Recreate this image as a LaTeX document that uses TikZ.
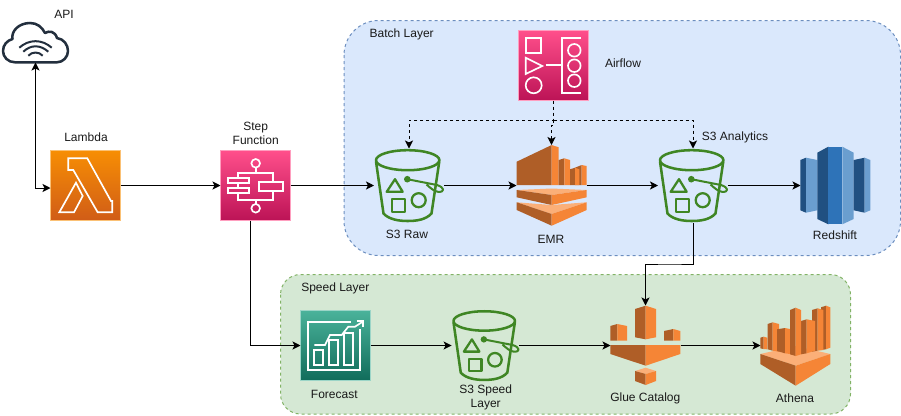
\documentclass[tikz,border=0pt]{standalone}
\usepackage{fontspec}
\setmainfont{Liberation Sans}
\usetikzlibrary{arrows.meta}
\definecolor{oDark}{HTML}{AF5E27}
\definecolor{oLight}{HTML}{F58536}
\definecolor{oPale}{HTML}{FBAF78}
\definecolor{bDark}{HTML}{205081}
\definecolor{bMid}{HTML}{2E73B8}
\definecolor{bLight}{HTML}{6A9ECF}
\definecolor{sGreen}{HTML}{3F8624}
\definecolor{cloudInk}{HTML}{232F3E}
\definecolor{batchFill}{HTML}{DAE8FC}
\definecolor{batchLine}{HTML}{6C8EBF}
\definecolor{speedFill}{HTML}{D5E8D4}
\definecolor{speedLine}{HTML}{82B366}
\definecolor{lamTop}{HTML}{F78E04}
\definecolor{lamBot}{HTML}{D05C17}
\definecolor{pinkTop}{HTML}{FF4F8B}
\definecolor{pinkBot}{HTML}{BC1356}
\definecolor{tealTop}{HTML}{4AB29A}
\definecolor{tealBot}{HTML}{116D5B}
\tikzset{
  inset/.style={inner sep=0pt,outer sep=0pt},
  lbl/.style={font=\fontsize{9}{10.5}\selectfont,text=black!90,inset,align=center},
  iconbox/.style={inset,shape=rectangle,minimum width=52.5pt,minimum height=52.5pt},
  tile/.style={iconbox,draw=white!45!#1,line width=.5pt},
  glyph/.style={draw=white,line width=1.25pt,fill=none},
  bucketline/.style={draw=sGreen,line width=1.9pt,fill=none,line join=round},
  arr/.style={-{Stealth[length=6pt,width=6pt,inset=1.5pt]},line width=.75pt,draw=black},
  arrboth/.style={{Stealth[length=6pt,width=6pt,inset=1.5pt]}-{Stealth[length=6pt,width=6pt,inset=1.5pt]},line width=.75pt,draw=black},
  dasharr/.style={arr,dash pattern=on 2.25pt off 2.25pt},
  layer/.style={dash pattern=on 2.25pt off 2.25pt,line width=.75pt},
}
\newcommand{\bucketicon}[4]{%
  \begin{scope}[shift={(#2,#3)},scale=#4]
    \node[inset,minimum width=#4*52.5pt,minimum height=#4*55.5pt] (#1) at (0,0) {};
    \draw[bucketline] (-1.3,-25.3) ellipse [x radius=31.7,y radius=10];
    \draw[bucketline] (-33,-24) -- (-25.5,28) .. controls (-20,34) and (-10,35.5) .. (-1.3,35.5)
      .. controls (8,35.5) and (17,34) .. (22.5,28) -- (30.3,-24);
    \draw[bucketline,line width=1.7pt] (-14,-6.3) -- (-6.3,6.3) -- (-22.3,6.3) -- cycle;
    \draw[bucketline,line width=1.7pt] (-17.3,13.7) rectangle (-4,26.3);
    \draw[bucketline,line width=1.7pt] (9.7,14.7) circle (7);
    \fill[sGreen] (-1.7,-6.3) circle (3.3);
    \draw[bucketline,line width=1.5pt] (-1.7,-6.3) -- (28,-0.5) .. controls (36,2) and (36,7) .. (29,6.3) .. controls (25,6) and (21,2) .. (17.5,-1);
  \end{scope}}
\begin{document}
\begin{tikzpicture}[x=0.75pt,y=-0.75pt]
\useasboundingbox (0,0) rectangle (901,415);
% layers
\draw[layer,draw=batchLine,fill=batchFill,rounded corners=26pt] (344,20.5) rectangle (900.5,255.5);
\draw[layer,draw=speedLine,fill=speedFill,rounded corners=15pt] (280.5,274.5) rectangle (850.5,414);

% cloud
\node[inset,minimum width=50pt,minimum height=30pt] (api) at (35.5,42.5) {};
\draw[cloudInk,line width=1.9pt,line join=round] (15,62.3) .. controls (8,62.3) and (3,57) .. (3,51)
  .. controls (3,45) and (7,40.5) .. (12.5,39) .. controls (11,31) and (19,23) .. (30,23)
  .. controls (37,23) and (42,27) .. (45,33) .. controls (49,30.5) and (55,31) .. (57,38)
  .. controls (64,39) and (68,45) .. (68,51) .. controls (68,57) and (63,62.3) .. (57,62.3) -- cycle;
\draw[cloudInk,line width=1.5pt] (19.3,47.7) .. controls (29,39) and (42,39) .. (51.7,47.7);
\draw[cloudInk,line width=1.5pt] (23.3,51.7) .. controls (31,44.5) and (40,44.5) .. (48.3,51.7);
\draw[cloudInk,line width=1.5pt] (28.3,55.7) .. controls (32,51.5) and (39,51.5) .. (42.7,55.7);

% lambda
\node[tile=lamTop,top color=lamTop,bottom color=lamBot] (lambda) at (85.5,185.5) {};
\draw[glyph,line join=miter] (68.3,158.3) -- (87.3,158.3) -- (111,201) -- (112.3,201) -- (112.3,212.3) -- (97.7,212.3) -- (73.3,170) -- (68.3,170) -- cycle;
\draw[glyph] (76,182.7) -- (82.7,196) -- (74,212.3) -- (59.3,212.3) -- cycle;

% step function
\node[tile=pinkTop,top color=pinkTop,bottom color=pinkBot] (step) at (255.5,185.5) {};
\draw[glyph] (255.7,163.3) circle (4.3);
\draw[glyph] (255.7,208.3) circle (4.3);
\draw[glyph] (255.7,167.6) -- (255.7,172.7);
\draw[glyph] (255.7,204) -- (255.7,200);
\draw[glyph] (238.3,177.7) -- (238.3,172.7) -- (273.3,172.7) -- (273.3,181.7);
\draw[glyph] (238.3,193.3) -- (238.3,200) -- (273.3,200) -- (273.3,190.7);
\draw[glyph] (238.3,183.3) -- (238.3,187.7);
\draw[glyph] (227.7,177.7) rectangle (249,183.3);
\draw[glyph] (227.7,187.7) rectangle (249,193.3);
\draw[glyph] (259.3,181.7) rectangle (283.3,190.7);

% airflow
\node[tile=pinkTop,top color=pinkTop,bottom color=pinkBot] (airflow) at (553.5,65.5) {};
\draw[glyph] (525.7,38.3) rectangle (541,52.7);
\draw[glyph] (525.7,57.7) -- (542.3,66) -- (525.7,74) -- cycle;
\draw[glyph] (533.7,85.3) circle (8);
\draw[glyph] (545.7,65.3) -- (561.7,65.3);
\draw[glyph] (581,38) -- (561.7,38) -- (561.7,92.7) -- (581,92.7);
\draw[glyph] (574.3,50.3) circle (6.3);
\draw[glyph] (574.3,65.7) circle (6.3);
\draw[glyph] (574.3,80.7) circle (6.3);

% forecast
\node[tile=tealTop,top color=tealTop,bottom color=tealBot] (forecast) at (335.5,345.5) {};
\draw[glyph] (350.7,321.7) -- (308.3,321.7) -- (308.3,370) -- (360,370) -- (360,329.3);
\draw[glyph] (314.3,350) rectangle (322.7,365);
\draw[glyph] (329.3,340) rectangle (338.3,365);
\draw[glyph] (344.3,333.3) rectangle (352.7,365);
\draw[glyph] (314.3,345) -- (325,345) -- (330,335) -- (341.7,335) -- (348.3,326.7) -- (355,326.7) -- (362.7,321.7);
\draw[glyph] (356.7,320.7) -- (363.3,320.7) -- (363.3,327.3);

% buckets
\bucketicon{s3raw}{409}{185.5}{1}
\bucketicon{s3an}{693}{185.5}{1}
\bucketicon{s3sp}{485.5}{345.5}{.97}

% EMR
\node[inset,minimum width=52.5pt,minimum height=60.75pt] (emr) at (551.5,185.5) {};
\fill[oDark] (516.7,161.7) -- (551.7,145) -- (551.7,185) -- (516.7,185) -- cycle;
\fill[oLight] (551.7,145) -- (558.7,147.3) -- (558.7,185) -- (551.7,185) -- cycle;
\fill[oDark] (558.7,160) -- (564.3,158.3) -- (564.3,185) -- (558.7,185) -- cycle;
\fill[oLight] (564.3,158.3) -- (570,160) -- (570,185) -- (564.3,185) -- cycle;
\fill[oDark] (575,167.7) -- (581.7,165) -- (581.7,185) -- (575,185) -- cycle;
\fill[oLight] (581.7,165) -- (586.7,166) -- (586.7,185) -- (581.7,185) -- cycle;
\fill[oDark] (570,169.3) -- (575,167.7) -- (575,185) -- (570,185) -- cycle;
\fill[oLight] (575,167.7) -- (579.3,169.3) -- (579.3,185) -- (575,185) -- cycle;
\fill[oPale] (516.7,190) -- (551.7,188.5) -- (586.7,190) -- (551.7,195) -- cycle;
\fill[oDark] (516.7,190) -- (551.7,195) -- (551.7,205) -- (516.7,197.3) -- cycle;
\fill[oLight] (551.7,195) -- (586.7,190) -- (586.7,197.3) -- (551.7,205) -- cycle;
\fill[oPale] (516.7,202.3) -- (551.7,205) -- (586.7,202.3) -- (551.7,214) -- cycle;
\fill[oDark] (516.7,202.3) -- (551.7,214) -- (551.7,225.7) -- (516.7,210) -- cycle;
\fill[oLight] (551.7,214) -- (586.7,202.3) -- (586.7,210) -- (551.7,225.7) -- cycle;

% Redshift
\node[inset,minimum width=52.5pt,minimum height=58pt] (redshift) at (835.5,185.5) {};
\fill[bDark] (800.3,160) -- (806,157.7) -- (806,212.7) -- (800.3,210.3) -- cycle;
\fill[bLight] (806,157.7) -- (817.3,160) -- (817.3,210.3) -- (806,212.7) -- cycle;
\fill[bDark] (817.3,152.7) -- (828.3,146.7) -- (828.3,224.3) -- (817.3,219) -- cycle;
\fill[bMid] (828.3,146.7) rectangle (842.3,224.3);
\fill[bLight] (842.3,146.7) -- (853.7,152.7) -- (853.7,219) -- (842.3,224.3) -- cycle;
\fill[bDark] (853.7,160) -- (864.7,157.7) -- (864.7,212.7) -- (853.7,210.3) -- cycle;
\fill[bLight] (864.7,157.7) -- (870.3,160) -- (870.3,210.3) -- (864.7,212.7) -- cycle;

% Glue
\node[inset,minimum width=52.5pt,minimum height=60pt] (glue) at (645.5,345.5) {};
\fill[oDark] (635,309) -- (645.7,305.7) -- (645.7,339.3) -- (635,337.3) -- cycle;
\fill[oLight] (645.7,305.7) -- (656,309) -- (656,337.3) -- (645.7,339.3) -- cycle;
\fill[oDark] (610.3,326) -- (617.3,324) -- (617.3,340.7) -- (610.3,340.7) -- cycle;
\fill[oLight] (617.3,324) -- (627,326) -- (627,340.7) -- (617.3,340.7) -- cycle;
\fill[oDark] (664,331) -- (673.3,329) -- (673.3,340.7) -- (664,340.7) -- cycle;
\fill[oLight] (673.3,329) -- (680.3,331) -- (680.3,340.7) -- (673.3,340.7) -- cycle;
\fill[oDark] (610.3,345) -- (645.7,345) -- (645.7,365.7) -- (610.3,354) -- cycle;
\fill[oLight] (645.7,345) -- (680.3,345) -- (680.3,354) -- (645.7,365.7) -- cycle;
\fill[oPale] (635,371) -- (645.7,367.7) -- (656,371) -- (645.7,374) -- cycle;
\fill[oDark] (635,371) -- (645.7,374) -- (645.7,385) -- (635,381) -- cycle;
\fill[oLight] (645.7,374) -- (656,371) -- (656,381) -- (645.7,385) -- cycle;

% Athena
\node[inset,minimum width=52.5pt,minimum height=60pt] (athena) at (795.5,345.5) {};
\fill[oPale] (760.3,354) -- (795.7,346) -- (830.3,354) -- (795.7,365.7) -- cycle;
\fill[oDark] (760.3,354) -- (795.7,365.7) -- (795.7,385.7) -- (760.3,364) -- cycle;
\fill[oLight] (795.7,365.7) -- (830.3,354) -- (830.3,364) -- (795.7,385.7) -- cycle;
\fill[oDark] (760.3,337.7) -- (763.7,336.7) -- (763.7,349) -- (760.3,348.3) -- cycle;
\fill[oLight] (763.7,336.7) -- (767.3,337.7) -- (767.3,349.3) -- (763.7,349) -- cycle;
\fill[oDark] (767.7,324) -- (772.7,322.3) -- (772.7,350.7) -- (767.7,349.3) -- cycle;
\fill[oLight] (772.7,322.3) -- (779,324) -- (779,351.7) -- (772.7,350.7) -- cycle;
\fill[oDark] (777,329.3) -- (785,328) -- (785,353.3) -- (777,351) -- cycle;
\fill[oLight] (785,328) -- (790,329) -- (790,354) -- (785,353.3) -- cycle;
\fill[oDark] (821,307.3) -- (826,305.7) -- (826,349.3) -- (821,350) -- cycle;
\fill[oLight] (826,305.7) -- (830.3,307.3) -- (830.3,347.7) -- (826,349.3) -- cycle;
\fill[oDark] (812,310) -- (817.7,308.3) -- (817.7,350.7) -- (812,351.7) -- cycle;
\fill[oLight] (817.7,308.3) -- (823.3,310) -- (823.3,350) -- (817.7,350.7) -- cycle;
\fill[oDark] (801,321) -- (806.7,319.3) -- (806.7,353.3) -- (801,354.3) -- cycle;
\fill[oLight] (806.7,319.3) -- (815,321) -- (815,350.7) -- (806.7,353.3) -- cycle;
\fill[oDark] (790,310) -- (795.7,307.7) -- (795.7,356) -- (790,354.3) -- cycle;
\fill[oLight] (795.7,307.7) -- (801,310) -- (801,354.3) -- (795.7,356) -- cycle;

% labels
\node[lbl] (tApi) at (64,14.5) {API};
\node[lbl] (tLambda) at (86,137) {Lambda};
\node[lbl] (tStep) at (255.7,133.7) {Step\\Function};
\node[lbl] (tBatch) at (401.7,34.5) {Batch Layer};
\node[lbl] (tAirflow) at (623,63.5) {Airflow};
\node[lbl] (tRaw) at (407,234) {S3 Raw};
\node[lbl] (tEmr) at (551,239) {EMR};
\node[lbl] (tAn) at (735,137) {S3 Analytics};
\node[lbl] (tRed) at (835,235) {Redshift};
\node[lbl] (tSpeed) at (335.3,288.5) {Speed Layer};
\node[lbl] (tFc) at (334.3,394) {Forecast};
\node[lbl] (tSp) at (485.7,397.7) {S3 Speed\\Layer};
\node[lbl] (tGlue) at (645.3,398) {Glue Catalog};
\node[lbl] (tAth) at (795,398) {Athena};

% connectors
\coordinate (lamIn) at (50.5,188);
\coordinate (stepOut) at (250.5,220.5);
\coordinate (dashJ) at (553.5,120);
\coordinate (gbend) at (670,264);
\draw[arrboth] (api.south) |- (lamIn);
\draw[arr] (lambda.east) -- (step.west);
\draw[arr] (step.east) -- (s3raw.west);
\draw[arr] (s3raw.east) -- (emr.west);
\draw[arr] (emr.east) -- (s3an.west);
\draw[arr] (s3an.east) -- (redshift.west);
\draw[arr] (s3an.south) |- (gbend) -| (glue.north);
\draw[arr] (stepOut) |- (forecast.west);
\draw[arr] (forecast.east) -- (s3sp.west);
\draw[arr] (s3sp.east) -- (glue.west);
\draw[arr] (glue.east) -- (athena.west);
\draw[dasharr] (airflow.south) -- (dashJ) -| (s3raw.north);
\draw[dasharr] (dashJ) -| (s3an.north);
\draw[dasharr] (dashJ) -- (553.5,125) -| (emr.north);
\end{tikzpicture}
\end{document}
